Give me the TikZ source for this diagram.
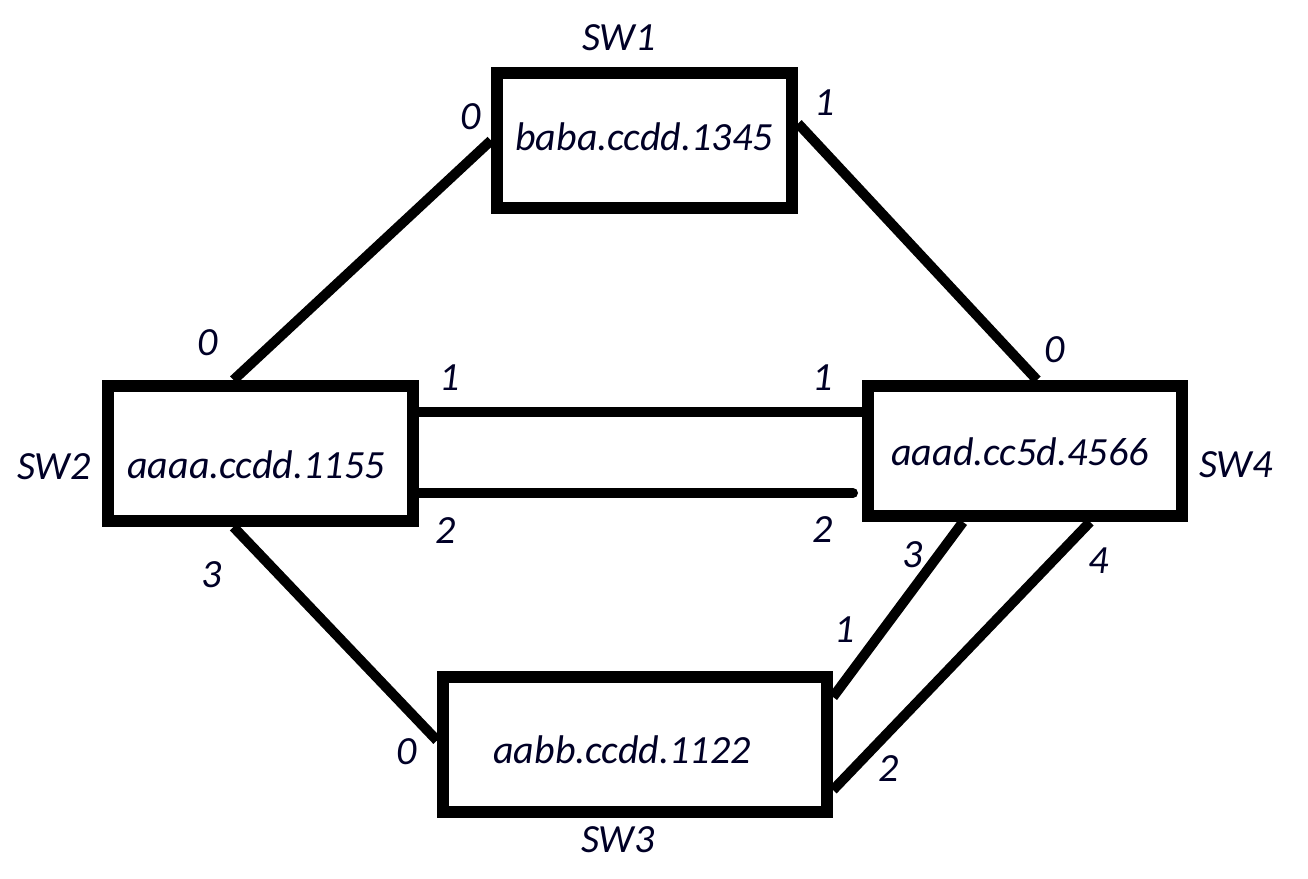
\documentclass[tikz,border=0pt]{standalone}
\usepackage{fontspec}
\setmainfont{Carlito}
\pgfdeclarelayer{bg}
\pgfsetlayers{bg,main}
\begin{document}
\begin{tikzpicture}[x=1pt,y=-1pt,
  swbox/.style={draw=black,line width=12pt,fill=white,rectangle,inner sep=0pt},
  txt/.style={font=\fontsize{40}{48}\selectfont\itshape,inner sep=0pt,text=black!85!blue},
  link/.style={line width=10pt,draw=black}]
\useasboundingbox (0,0) rectangle (1308,878);
% switch boxes
\node[swbox,minimum width=295pt,minimum height=135pt] (sw1) at (644.5,140.5) {};
\node[swbox,minimum width=305pt,minimum height=135pt] (sw2) at (260.5,453.5) {};
\node[swbox,minimum width=314pt,minimum height=130pt] (sw4) at (1025,451) {};
\node[swbox,minimum width=384pt,minimum height=135pt] (sw3) at (635,744.5) {};
% connectors behind the boxes
\begin{pgfonlayer}{bg}
\fill[white] (0,0) rectangle (1308,878);
\draw[link] (sw1.west) -- ([xshift=-27pt]sw2.north);
\draw[link] ([yshift=17pt]sw1.east) -- ([xshift=12pt]sw4.north);
\draw[link] ([yshift=41.5pt]sw2.east) -- ([yshift=41.5pt]sw2.east -| sw4.west);
\coordinate (e2) at ([yshift=-39.5pt,xshift=-9pt]sw2.east -| sw4.west);
\draw[link,line cap=round] ([yshift=-39.5pt]sw2.east) -- (e2);
\draw[link] ([xshift=-27pt]sw2.south) -- ([yshift=4pt]sw3.west);
\draw[link] ([xshift=-62pt]sw4.south) -- ([yshift=47.5pt]sw3.east);
\draw[link] ([xshift=65pt]sw4.south) -- ([yshift=-45.5pt]sw3.east);
\end{pgfonlayer}
% box texts
\node[txt] (t1) at (644,137) {baba.ccdd.1345};
\node[txt] (t2) at (256,465) {aaaa.ccdd.1155};
\node[txt] (t4) at (1020,452) {aaad.cc5d.4566};
\node[txt] (t3) at (622,750) {aabb.ccdd.1122};
% switch names
\node[txt] (n1) at (619,38) {SW1};
\node[txt] (n2) at (54,467) {SW2};
\node[txt] (n4) at (1236,465) {SW4};
\node[txt] (n3) at (618,840) {SW3};
% port labels
\node[txt] (p10) at (471,117) {0};
\node[txt] (p11) at (825,103) {1};
\node[txt] (p20) at (208,343) {0};
\node[txt] (p21) at (450,378) {1};
\node[txt] (p22) at (446,531) {2};
\node[txt] (p23) at (212,575) {3};
\node[txt] (p41) at (823,378) {1};
\node[txt] (p42) at (823,530) {2};
\node[txt] (p40) at (1055,350) {0};
\node[txt] (p43) at (913,555) {3};
\node[txt] (p44) at (1099,561) {4};
\node[txt] (p31) at (845,630) {1};
\node[txt] (p30) at (407,752) {0};
\node[txt] (p32) at (889,769) {2};
\end{tikzpicture}
\end{document}
